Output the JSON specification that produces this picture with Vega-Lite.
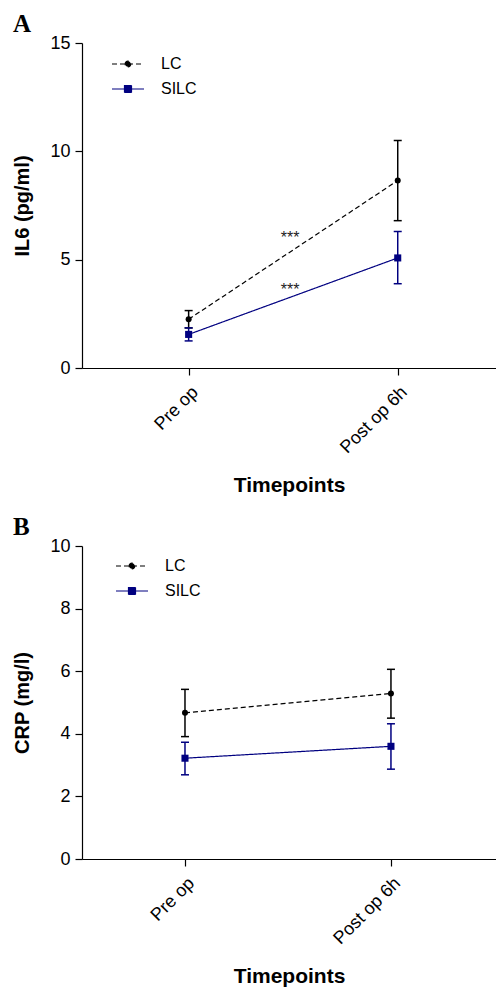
{
  "$schema": "https://vega.github.io/schema/vega-lite/v6.json",
  "padding": {"left": 12, "top": 12, "right": 0, "bottom": 0},
  "background": "white",
  "spacing": 19,
  "resolve": {"scale": {"color": "independent", "strokeDash": "independent"}, "legend": {"color": "independent", "strokeDash": "independent"}},
  "config": {
    "view": {"stroke": null},
    "font": "Liberation Sans",
    "axis": {
      "grid": false,
      "domainColor": "#000000",
      "domainWidth": 1.2,
      "tickColor": "#000000",
      "tickWidth": 1.2,
      "tickSize": 7,
      "labelColor": "#000000",
      "labelFont": "Liberation Sans",
      "labelFontSize": 18,
      "titleFont": "Liberation Sans",
      "titleFontWeight": "bold",
      "titleColor": "#000000"
    },
    "title": {"font": "Liberation Serif", "fontSize": 25, "fontWeight": "bold", "anchor": "start", "frame": "bounds", "color": "#000000"},
    "legend": {
      "orient": "none",
      "padding": 0,
      "symbolSize": 400,
      "symbolStrokeWidth": 1.2,
      "labelFont": "Liberation Sans",
      "labelFontSize": 16,
      "labelColor": "#000000",
      "labelOffset": 22,
      "rowPadding": 6
    }
  },
  "datasets": {
    "il6": [
      {"group": "LC", "t": 0, "mean": 2.25, "lo": 1.85, "hi": 2.65},
      {"group": "LC", "t": 1, "mean": 8.65, "lo": 6.8, "hi": 10.5},
      {"group": "SILC", "t": 0, "mean": 1.55, "lo": 1.25, "hi": 1.85},
      {"group": "SILC", "t": 1, "mean": 5.08, "lo": 3.89, "hi": 6.3}
    ],
    "il6sig": [
      {"t": 0.5, "y": 6.12, "label": "***"},
      {"t": 0.5, "y": 3.72, "label": "***"}
    ],
    "crp": [
      {"group": "LC", "t": 0, "mean": 4.67, "lo": 3.91, "hi": 5.42},
      {"group": "LC", "t": 1, "mean": 5.29, "lo": 4.5, "hi": 6.06},
      {"group": "SILC", "t": 0, "mean": 3.22, "lo": 2.69, "hi": 3.73},
      {"group": "SILC", "t": 1, "mean": 3.6, "lo": 2.87, "hi": 4.32}
    ]
  },
  "vconcat": [
    {
      "title": {"text": "A", "dy": 7},
      "width": 414,
      "height": 325,
      "data": {"name": "il6"},
      "encoding": {
        "x": {"field": "t", "type": "quantitative", "scale": {"domain": [-0.51, 1.47], "nice": false},
              "axis": {"values": [0, 1], "labelExpr": "datum.value == 0 ? 'Pre op' : 'Post op 6h'", "labelAngle": -45, "labelAlign": "right", "labelBaseline": "top", "labelPadding": 8, "title": "Timepoints", "titleFontSize": 21, "titlePadding": 18}}
      },
      "layer": [
        {
          "mark": {"type": "line", "strokeWidth": 1.2},
          "encoding": {
            "y": {"field": "mean", "type": "quantitative", "scale": {"domain": [0, 15], "nice": false},
                  "axis": {"values": [0, 5, 10, 15], "title": "IL6 (pg/ml)", "titleFontSize": 20, "titlePadding": 17, "labelPadding": 5}},
            "color": {"field": "group", "type": "nominal", "title": null, "scale": {"domain": ["LC", "SILC"], "range": ["#000000", "#000080"]},
                      "legend": {"legendX": 35, "legendY": 10, "encode": {"symbols": {"update": {"shape": {"signal": "datum.value == 'LC' ? 'M-1.6,0H1.6M-0.28,0A0.28,0.28,0,1,1,0.28,0A0.28,0.28,0,1,1,-0.28,0Z' : 'M-1.6,0H1.6M-0.35,-0.35H0.35V0.35H-0.35Z'"}, "fill": {"signal": "datum.value == 'LC' ? '#000000' : '#000080'"}, "size": {"value": 400}}}}}},
            "strokeDash": {"field": "group", "type": "nominal", "title": null, "scale": {"domain": ["LC", "SILC"], "range": [[5, 3], [1, 0]]},
                      "legend": {"legendX": 35, "legendY": 10, "encode": {"symbols": {"update": {"shape": {"signal": "datum.value == 'LC' ? 'M-1.6,0H1.6M-0.28,0A0.28,0.28,0,1,1,0.28,0A0.28,0.28,0,1,1,-0.28,0Z' : 'M-1.6,0H1.6M-0.35,-0.35H0.35V0.35H-0.35Z'"}, "fill": {"signal": "datum.value == 'LC' ? '#000000' : '#000080'"}, "size": {"value": 400}}}}}}
          }
        },
        {
          "mark": {"type": "rule", "strokeWidth": 1.5},
          "encoding": {
            "y": {"field": "lo", "type": "quantitative"},
            "y2": {"field": "hi"},
            "color": {"field": "group", "type": "nominal", "legend": null}
          }
        },
        {
          "mark": {"type": "tick", "orient": "horizontal", "size": 8, "thickness": 1.5, "opacity": 1},
          "encoding": {
            "y": {"field": "lo", "type": "quantitative"},
            "color": {"field": "group", "type": "nominal", "legend": null}
          }
        },
        {
          "mark": {"type": "tick", "orient": "horizontal", "size": 8, "thickness": 1.5, "opacity": 1},
          "encoding": {
            "y": {"field": "hi", "type": "quantitative"},
            "color": {"field": "group", "type": "nominal", "legend": null}
          }
        },
        {
          "transform": [{"filter": "datum.group == 'LC'"}],
          "mark": {"type": "point", "shape": "circle", "filled": true, "size": 36, "opacity": 1, "color": "#000000"},
          "encoding": {"y": {"field": "mean", "type": "quantitative"}}
        },
        {
          "transform": [{"filter": "datum.group == 'SILC'"}],
          "mark": {"type": "point", "shape": "square", "filled": true, "size": 50, "opacity": 1, "color": "#000080"},
          "encoding": {"y": {"field": "mean", "type": "quantitative"}}
        },
        {
          "data": {"name": "il6sig"},
          "mark": {"type": "text", "fontSize": 16, "color": "#222222", "baseline": "middle", "dx": -3, "dy": 3},
          "encoding": {
            "x": {"field": "t", "type": "quantitative"},
            "y": {"field": "y", "type": "quantitative"},
            "text": {"field": "label"}
          }
        }
      ]
    },
    {
      "title": {"text": "B", "dy": 7},
      "width": 414,
      "height": 313,
      "data": {"name": "crp"},
      "encoding": {
        "x": {"field": "t", "type": "quantitative", "scale": {"domain": [-0.5, 1.51], "nice": false},
              "axis": {"values": [0, 1], "labelExpr": "datum.value == 0 ? 'Pre op' : 'Post op 6h'", "labelAngle": -45, "labelAlign": "right", "labelBaseline": "top", "labelPadding": 8, "title": "Timepoints", "titleFontSize": 21, "titlePadding": 18}}
      },
      "layer": [
        {
          "mark": {"type": "line", "strokeWidth": 1.2},
          "encoding": {
            "y": {"field": "mean", "type": "quantitative", "scale": {"domain": [0, 10], "nice": false},
                  "axis": {"values": [0, 2, 4, 6, 8, 10], "title": "CRP (mg/l)", "titleFontSize": 20, "titlePadding": 17, "labelPadding": 5}},
            "color": {"field": "group", "type": "nominal", "title": null, "scale": {"domain": ["LC", "SILC"], "range": ["#000000", "#000080"]},
                      "legend": {"legendX": 39, "legendY": 9, "encode": {"symbols": {"update": {"shape": {"signal": "datum.value == 'LC' ? 'M-1.6,0H1.6M-0.28,0A0.28,0.28,0,1,1,0.28,0A0.28,0.28,0,1,1,-0.28,0Z' : 'M-1.6,0H1.6M-0.35,-0.35H0.35V0.35H-0.35Z'"}, "fill": {"signal": "datum.value == 'LC' ? '#000000' : '#000080'"}, "size": {"value": 400}}}}}},
            "strokeDash": {"field": "group", "type": "nominal", "title": null, "scale": {"domain": ["LC", "SILC"], "range": [[5, 3], [1, 0]]},
                      "legend": {"legendX": 39, "legendY": 9, "encode": {"symbols": {"update": {"shape": {"signal": "datum.value == 'LC' ? 'M-1.6,0H1.6M-0.28,0A0.28,0.28,0,1,1,0.28,0A0.28,0.28,0,1,1,-0.28,0Z' : 'M-1.6,0H1.6M-0.35,-0.35H0.35V0.35H-0.35Z'"}, "fill": {"signal": "datum.value == 'LC' ? '#000000' : '#000080'"}, "size": {"value": 400}}}}}}
          }
        },
        {
          "mark": {"type": "rule", "strokeWidth": 1.5},
          "encoding": {
            "y": {"field": "lo", "type": "quantitative"},
            "y2": {"field": "hi"},
            "color": {"field": "group", "type": "nominal", "legend": null}
          }
        },
        {
          "mark": {"type": "tick", "orient": "horizontal", "size": 8, "thickness": 1.5, "opacity": 1},
          "encoding": {
            "y": {"field": "lo", "type": "quantitative"},
            "color": {"field": "group", "type": "nominal", "legend": null}
          }
        },
        {
          "mark": {"type": "tick", "orient": "horizontal", "size": 8, "thickness": 1.5, "opacity": 1},
          "encoding": {
            "y": {"field": "hi", "type": "quantitative"},
            "color": {"field": "group", "type": "nominal", "legend": null}
          }
        },
        {
          "transform": [{"filter": "datum.group == 'LC'"}],
          "mark": {"type": "point", "shape": "circle", "filled": true, "size": 36, "opacity": 1, "color": "#000000"},
          "encoding": {"y": {"field": "mean", "type": "quantitative"}}
        },
        {
          "transform": [{"filter": "datum.group == 'SILC'"}],
          "mark": {"type": "point", "shape": "square", "filled": true, "size": 50, "opacity": 1, "color": "#000080"},
          "encoding": {"y": {"field": "mean", "type": "quantitative"}}
        }
      ]
    }
  ]
}
